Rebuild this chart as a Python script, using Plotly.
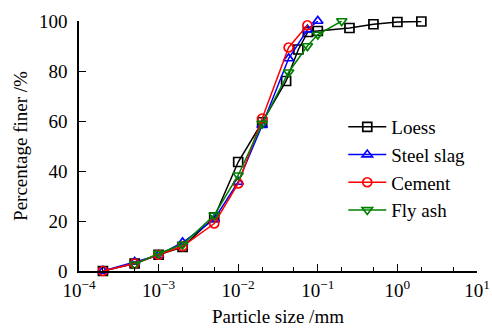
import plotly.graph_objects as go

loess_x = [2e-4, 5e-4, 1e-3, 2e-3, 5e-3, 1e-2, 2e-2, 0.04, 0.057, 0.075, 0.1, 0.25, 0.5, 1.0, 2.0]
loess_y = [0, 3, 6.5, 9.6, 21.5, 43.6, 59.5, 76, 88.6, 95.6, 96, 97.2, 98.7, 99.6, 99.8]

slag_x = [2e-4, 5e-4, 1e-3, 2e-3, 5e-3, 1e-2, 2e-2, 0.043, 0.074, 0.1]
slag_y = [0, 3.6, 6.3, 11.4, 20.7, 35.6, 58.3, 85, 96.5, 100]

cement_x = [2e-4, 5e-4, 1e-3, 2e-3, 5e-3, 1e-2, 2e-2, 0.043, 0.074]
cement_y = [0, 3, 6.5, 9.9, 19, 35, 61, 89.4, 98.3]

flyash_x = [5e-4, 1e-3, 2e-3, 5e-3, 1e-2, 2e-2, 0.043, 0.074, 0.1, 0.2]
flyash_y = [2.7, 7, 10.6, 22.3, 38.3, 59, 79.5, 90, 94.6, 100]

tick_vals = [1e-4, 1e-3, 1e-2, 1e-1, 1e0, 1e1]
tick_text = ["10<sup>\u22124</sup>", "10<sup>\u22123</sup>", "10<sup>\u22122</sup>",
             "10<sup>\u22121</sup>", "10<sup>0</sup>", "10<sup>1</sup>"]

series = [
    ("Loess", loess_x, loess_y, "black", "square-open"),
    ("Steel slag", slag_x, slag_y, "blue", "triangle-up-open"),
    ("Cement", cement_x, cement_y, "red", "circle-open"),
    ("Fly ash", flyash_x, flyash_y, "green", "triangle-down-open"),
]

fig = go.Figure()
for name, xs, ys, col, sym in series:
    fig.add_trace(go.Scatter(
        x=xs, y=ys, name=name, mode="lines+markers",
        line=dict(color=col, width=1.5),
        marker=dict(symbol=sym, size=9, color=col, line=dict(color=col, width=1.7)),
        cliponaxis=False,
    ))

font = dict(family="Liberation Serif, Times New Roman, serif", size=19, color="black")

fig.update_layout(
    width=492, height=329,
    margin=dict(l=79, r=15, t=21, b=58, autoexpand=False),
    paper_bgcolor="white", plot_bgcolor="white",
    font=font,
    showlegend=True,
    legend=dict(x=0.664, y=0.41, xanchor="left", yanchor="middle",
                bgcolor="rgba(0,0,0,0)", font=font, itemwidth=38,
                tracegroupgap=0),
)
fig.update_xaxes(
    type="log", range=[-4, 1], automargin=False,
    tickvals=tick_vals, ticktext=tick_text,
    ticks="inside", ticklen=7, tickwidth=1.2, tickcolor="black",
    minor=dict(ticks="inside", ticklen=4, tickwidth=1, tickcolor="black", showgrid=False),
    showline=True, linecolor="black", linewidth=1.5,
    showgrid=False, zeroline=False,
    ticklabelstandoff=1,
    title=dict(text="Particle size /mm", font=font, standoff=10),
    tickfont=font,
)
fig.update_yaxes(
    range=[0, 100], tickvals=[0, 20, 40, 60, 80, 100], automargin=False,
    ticks="inside", ticklen=7, tickwidth=1.2, tickcolor="black",
    showline=True, linecolor="black", linewidth=1.5,
    showgrid=False, zeroline=False,
    ticklabelstandoff=6,
    title=dict(text="Percentage finer /%", font=font, standoff=6),
    tickfont=font,
)

fig.write_html("out.html")
